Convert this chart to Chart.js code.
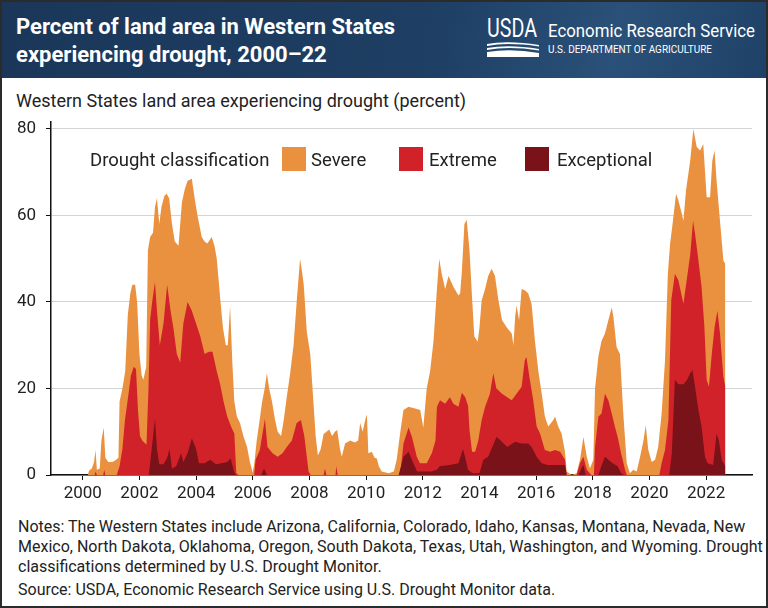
<!DOCTYPE html>
<html>
<head>
<meta charset="utf-8">
<title>Western States drought</title>
<script src="https://cdn.jsdelivr.net/npm/chart.js@4.4.0/dist/chart.umd.min.js"></script>
<style>
  html, body { margin: 0; padding: 0; background: #fff; }
  #frame { position: relative; width: 768px; height: 608px; overflow: hidden; background: #fff; font-family: Roboto, "Noto Sans", sans-serif; color: #222; }
  #border { position: absolute; left: 0; top: 0; width: 768px; height: 608px; box-sizing: border-box; border: 2px solid #2b2b2b; pointer-events: none; z-index: 10; }
  #header { position: absolute; left: 0; top: 0; width: 768px; height: 78px; background: linear-gradient(100deg, #1a3759 0%, #1e3e63 55%, #2a5179 80%, #1f4167 100%); }
  #title { position: absolute; left: 16px; top: 13px; color: #fff; font: bold 22px/28px "Liberation Sans Narrow", Roboto, sans-serif; }
  .fit { position: absolute; color: #fff; white-space: nowrap; transform-origin: 0 0; }
  #usda { left: 487px; top: 15px; font: 26px/26px Roboto, sans-serif; }
  #swoosh { position: absolute; left: 487px; top: 41px; }
  #ers { left: 548px; top: 20px; font: 19px/22px Roboto, sans-serif; }
  #dept { left: 548px; top: 43px; font: 11px/13px Roboto, sans-serif; }
  #subtitle { position: absolute; left: 16px; top: 90px; font-size: 18px; line-height: 22px; color: #222; white-space: nowrap; }
  #chartBox { position: absolute; left: 0; top: 100px; width: 768px; height: 410px; }
  .leg { position: absolute; top: 148px; font-size: 18.5px; line-height: 24px; color: #222; white-space: nowrap; }
  .sw { position: absolute; top: 147px; width: 24px; height: 24px; }
  #notes { position: absolute; left: 18px; top: 517px; font: 16px/20px "Liberation Sans Narrow", Roboto, sans-serif; color: #222; }
  #source { position: absolute; left: 18px; top: 580px; font: 16px/20px "Liberation Sans Narrow", Roboto, sans-serif; color: #222; }
</style>
</head>
<body>
<div id="frame">
  <div id="header">
    <div id="title">Percent of land area in Western States<br>experiencing drought, 2000–22</div>
    <div id="usda" class="fit" data-w="50">USDA</div>
    <svg id="swoosh" width="52" height="16" viewBox="0 0 52 16">
      <path d="M0 3 Q20 -1 52 4 L52 5.5 Q20 1 0 5 Z" fill="#fff"/>
      <path d="M0 7 Q22 3 52 8 L52 9.5 Q22 5 0 9 Z" fill="#fff"/>
      <path d="M0 11 Q24 7 52 12 L52 16 L0 16 Z" fill="#fff"/>
    </svg>
    <div id="ers" class="fit" data-w="207">Economic Research Service</div>
    <div id="dept" class="fit" data-w="164">U.S. DEPARTMENT OF AGRICULTURE</div>
  </div>
  <div id="subtitle">Western States land area experiencing drought (percent)</div>
  <div id="chartBox"><canvas id="chart"></canvas></div>

  <div class="leg" style="left:90px">Drought classification</div>
  <div class="sw" style="left:282px;background:#EA9140"></div>
  <div class="leg" style="left:311px">Severe</div>
  <div class="sw" style="left:399px;background:#D12229"></div>
  <div class="leg" style="left:429px">Extreme</div>
  <div class="sw" style="left:525px;background:#7A121A"></div>
  <div class="leg" style="left:557px">Exceptional</div>

  <div id="notes">Notes: The Western States include Arizona, California, Colorado, Idaho, Kansas, Montana, Nevada, New<br>Mexico, North Dakota, Oklahoma, Oregon, South Dakota, Texas, Utah, Washington, and Wyoming. Drought<br>classifications determined by U.S. Drought Monitor.</div>
  <div id="source">Source: USDA, Economic Research Service using U.S. Drought Monitor data.</div>
  <div id="border"></div>
</div>

<script>
// percent of land area: [decimal year, percent]
// each series is cumulative (severe or worse, extreme or worse, exceptional)
const severe = [
  [2000.0,0],[2000.18,0],[2000.22,1],[2000.32,1.5],[2000.4,3],[2000.45,5.8],[2000.5,1.2],[2000.6,1.5],
  [2000.66,8],[2000.74,11],[2000.8,4],[2000.9,3],[2001.05,3],[2001.18,3.5],[2001.26,4],[2001.3,17],
  [2001.4,20],[2001.5,24],[2001.59,37],[2001.68,42],[2001.75,44],[2001.85,44],[2001.92,40],[2002.0,28],
  [2002.08,23],[2002.14,22],[2002.24,25],[2002.3,52],[2002.38,55],[2002.48,56],[2002.55,62],[2002.62,64],
  [2002.7,58],[2002.78,62],[2002.88,64.5],[2002.96,65],[2003.05,64],[2003.15,58],[2003.25,54],[2003.38,53],
  [2003.5,63],[2003.6,66],[2003.7,68],[2003.85,68.5],[2003.95,64],[2004.05,60],[2004.2,55],[2004.3,54],
  [2004.4,53.5],[2004.55,55],[2004.65,53],[2004.73,50],[2004.85,41],[2004.95,34],[2005.05,30],[2005.12,30],
  [2005.2,39],[2005.28,26],[2005.35,17],[2005.44,13.5],[2005.55,12],[2005.67,9],[2005.8,6.5],[2005.9,3],
  [2006.0,0.5],[2006.06,3],[2006.14,8],[2006.25,13],[2006.32,16.5],[2006.42,20],[2006.5,23.5],[2006.58,20],
  [2006.68,17],[2006.78,13],[2006.88,10],[2007.0,9],[2007.1,13],[2007.2,18],[2007.32,23.5],[2007.44,30],
  [2007.55,40],[2007.67,50],[2007.74,47],[2007.8,44],[2007.91,33],[2008.03,28],[2008.15,16],[2008.22,9],
  [2008.3,4.5],[2008.4,6],[2008.5,9.5],[2008.6,10],[2008.7,10.5],[2008.8,9],[2008.9,10],[2008.98,10.4],
  [2009.08,6],[2009.14,4.2],[2009.26,7.3],[2009.44,8],[2009.6,7.5],[2009.72,8],[2009.79,12],[2009.88,10],
  [2009.98,13],[2010.03,14],[2010.08,5],[2010.2,5.4],[2010.3,4],[2010.38,3.8],[2010.45,2],[2010.55,0.8],
  [2010.8,0.4],[2010.98,0.8],[2011.08,3.5],[2011.2,9.6],[2011.32,15],[2011.5,15.8],[2011.73,15.4],[2011.91,15],
  [2012.02,11],[2012.14,20],[2012.26,24],[2012.38,31],[2012.5,43],[2012.58,50],[2012.67,46.5],[2012.79,43],
  [2012.91,46],[2013.08,43.5],[2013.26,41.5],[2013.32,42],[2013.38,47],[2013.47,58],[2013.55,59],[2013.65,52],
  [2013.74,41],[2013.82,32],[2013.94,30.8],[2014.0,34],[2014.08,40.4],[2014.2,43],[2014.31,46],[2014.43,47.7],
  [2014.55,46],[2014.67,40.4],[2014.8,35.8],[2014.98,34],[2015.14,32.7],[2015.2,30],[2015.26,36.5],[2015.31,39.2],
  [2015.4,35.8],[2015.49,43],[2015.6,42.7],[2015.72,42],[2015.84,39.6],[2015.96,31],[2016.08,24],[2016.2,18.8],
  [2016.31,13.5],[2016.43,11.2],[2016.61,12.7],[2016.67,13.5],[2016.78,11.2],[2016.9,9.6],[2017.02,5.4],[2017.08,0.8],
  [2017.26,0],[2017.43,0.4],[2017.55,3.5],[2017.67,8.8],[2017.79,4.2],[2017.9,1.5],[2018.02,3.5],[2018.08,20],
  [2018.2,27.5],[2018.31,31],[2018.43,32.7],[2018.55,35.8],[2018.67,38.8],[2018.73,36.5],[2018.84,29.6],[2018.96,28],
  [2019.08,14],[2019.2,2.7],[2019.31,0.4],[2019.43,1.2],[2019.55,0.8],[2019.67,4.2],[2019.79,8],[2019.87,11.5],
  [2019.96,5.8],[2020.08,3],[2020.2,3.5],[2020.31,6.5],[2020.43,14.2],[2020.55,26.5],[2020.65,46.5],[2020.73,53.5],
  [2020.83,58.8],[2020.94,65],[2021.02,63.5],[2021.12,61],[2021.2,58.8],[2021.29,65.8],[2021.44,72.7],[2021.55,80],
  [2021.67,75.8],[2021.79,75],[2021.9,76.5],[2022.02,64.2],[2022.14,64.2],[2022.22,72.7],[2022.3,75],[2022.37,68],
  [2022.49,58.8],[2022.61,49.6],[2022.68,48.8]
];

const extreme = [
  [2000.0,0],[2000.42,0],[2000.45,0.8],[2000.5,0],[2000.72,0],[2000.76,1.2],[2000.8,0],[2001.2,0],
  [2001.3,2],[2001.4,6],[2001.49,12.7],[2001.6,18],[2001.7,23],[2001.8,25],[2001.88,24.5],[2001.95,15],
  [2002.02,9],[2002.1,8],[2002.25,7],[2002.32,20],[2002.38,36],[2002.45,40],[2002.55,44.6],[2002.62,38],
  [2002.72,30],[2002.85,35],[2002.98,44],[2003.1,38],[2003.2,34],[2003.32,28],[2003.44,26],[2003.55,35],
  [2003.7,40],[2003.85,38],[2004.0,35],[2004.15,32],[2004.3,28],[2004.45,28.5],[2004.58,28.5],[2004.73,24],
  [2004.85,21],[2004.97,17],[2005.1,13.5],[2005.25,11],[2005.35,9.6],[2005.42,0.4],[2005.5,0],[2006.05,0],
  [2006.1,3.5],[2006.25,5.8],[2006.43,13],[2006.52,6.5],[2006.7,5],[2006.88,4.2],[2007.05,5],[2007.2,6.5],
  [2007.38,8],[2007.55,12],[2007.7,12.7],[2007.82,9],[2007.97,0.8],[2008.05,0],[2008.5,0],[2008.55,1.5],
  [2008.6,0],[2008.92,0],[2008.95,2],[2009.0,0],[2011.2,0],[2011.25,3],[2011.32,7.3],[2011.5,11],
  [2011.62,8.8],[2011.79,4.2],[2011.9,2.7],[2012.14,2.7],[2012.32,5],[2012.45,8],[2012.5,15.8],[2012.61,17.3],
  [2012.79,16.5],[2012.96,18],[2013.08,16.5],[2013.26,15.8],[2013.38,19],[2013.5,18],[2013.6,16],[2013.65,10.4],
  [2013.74,5.4],[2013.85,5.4],[2013.96,8],[2014.08,12.7],[2014.2,15.8],[2014.37,18.8],[2014.49,23.5],[2014.6,20],
  [2014.8,18.8],[2014.98,18],[2015.14,17.3],[2015.31,18.8],[2015.49,20.4],[2015.6,26.5],[2015.66,27.3],[2015.78,22],
  [2015.9,17.3],[2016.02,11.2],[2016.14,9.6],[2016.31,5.8],[2016.5,5.4],[2016.67,5.8],[2016.85,5.4],[2017.02,3.5],
  [2017.08,0],[2017.43,0],[2017.55,2.7],[2017.67,4.2],[2017.79,1.2],[2017.95,0],[2018.04,0],[2018.08,6.5],
  [2018.2,13.5],[2018.31,14.2],[2018.43,18.8],[2018.55,17.3],[2018.67,14.2],[2018.78,11.2],[2018.88,8.8],[2019.0,5],
  [2019.14,1.2],[2019.2,0],[2020.35,0],[2020.43,2.7],[2020.55,5.8],[2020.67,12.7],[2020.77,40.4],[2020.9,46.5],
  [2021.02,45],[2021.12,42],[2021.2,39.6],[2021.33,45.8],[2021.44,51],[2021.54,58.8],[2021.61,55.8],[2021.73,49.6],
  [2021.84,43.5],[2021.94,34.2],[2022.02,22],[2022.1,20.4],[2022.2,28],[2022.3,34.2],[2022.4,38],[2022.49,32.7],
  [2022.61,22.7],[2022.68,20.4]
];

const exceptional = [
  [2000.0,0],[2002.33,0],[2002.4,4],[2002.5,10],[2002.55,13],[2002.62,6],[2002.7,2.5],[2002.85,2.5],
  [2002.98,4],[2003.06,6],[2003.15,1.5],[2003.3,2],[2003.47,5],[2003.55,3],[2003.7,5],[2003.85,8.5],
  [2004.0,6],[2004.1,2.7],[2004.3,2.7],[2004.5,3.5],[2004.7,2.5],[2004.9,2.7],[2005.1,3],[2005.22,3.8],
  [2005.35,0.5],[2005.42,0],[2006.3,0],[2006.4,1.5],[2006.5,0],[2011.15,0],[2011.32,4.2],[2011.5,5.4],
  [2011.65,3],[2011.8,0.8],[2012.3,0.8],[2012.5,1.2],[2012.6,2],[2012.95,2.3],[2013.26,2.7],[2013.42,6],
  [2013.5,4],[2013.6,1.2],[2013.75,0.4],[2014.0,0.4],[2014.14,3.5],[2014.31,4.2],[2014.49,7],[2014.6,8.8],
  [2014.75,8],[2014.98,6.5],[2015.1,7],[2015.26,7.7],[2015.49,7.3],[2015.72,7.3],[2015.84,6.5],[2016.02,4.2],
  [2016.2,2.7],[2016.4,2.3],[2017.02,2.3],[2017.08,0],[2017.5,0],[2017.6,1.5],[2017.67,2.3],[2017.75,0],
  [2018.2,0],[2018.3,2],[2018.43,4.2],[2018.55,3.5],[2018.7,2.7],[2018.88,2],[2019.0,0.4],[2019.1,0],
  [2020.7,0],[2020.79,5],[2020.9,22],[2021.02,21],[2021.2,21],[2021.33,22],[2021.44,23.5],[2021.52,24.2],
  [2021.61,20.4],[2021.73,15],[2021.84,11.2],[2021.96,4.2],[2022.05,2.7],[2022.25,2.3],[2022.37,9.6],[2022.45,8],
  [2022.55,3.5],[2022.68,2]
];

const seriesNames = ["Exceptional", "Extreme", "Severe"];
const seriesColors = ["#7A121A", "#D12229", "#EA9140"];
const yTicks = [0, 20, 40, 60, 80];

// squeeze the logo texts to the widths they take in the original
document.querySelectorAll(".fit").forEach(function (el) {
  var target = parseFloat(el.dataset.w);
  var w = el.getBoundingClientRect().width;
  if (w > 0) {
    el.style.transform = "scaleX(" + (target / w) + ")";
  }
});

const toPoints = (arr) => arr.map(p => ({ x: p[0], y: p[1] }));

// first dataset is drawn last, so exceptional sits on top
let datasets = [exceptional, extreme, severe].map((s, i) => ({
  label: seriesNames[i],
  data: toPoints(s),
  backgroundColor: seriesColors[i],
  borderWidth: 0,
  pointRadius: 0,
  fill: "origin",
  tension: 0
}));

let chart = new Chart(document.getElementById("chart"), {
  type: "line",
  data: { datasets: datasets },
  options: {
    responsive: true,
    maintainAspectRatio: false,
    animation: false,
    layout: { padding: { left: 0, right: 16, top: 21.6, bottom: 0 } },
    plugins: { legend: { display: false }, tooltip: { enabled: false } },
    scales: {
      x: {
        type: "linear",
        min: 1998.88,
        max: 2023.62,
        afterFit: (scale) => { scale.height = 35; },
        border: { display: true, color: "#111", width: 1.5 },
        grid: { drawOnChartArea: false, drawTicks: true, tickLength: 5, tickColor: "#111" },
        ticks: {
          stepSize: 2,
          includeBounds: false,
          padding: 4,
          maxRotation: 0,
          color: "#222",
          font: { family: "Roboto", size: 17 },
          callback: (v) => String(v)
        }
      },
      y: {
        min: 0,
        max: 81.7,
        afterFit: (scale) => { scale.width = 51; },
        afterBuildTicks: (scale) => { scale.ticks = yTicks.map(v => ({ value: v })); },
        border: { display: true, color: "#111", width: 1.5 },
        grid: { color: "#d4d4d4", lineWidth: 1, tickLength: 5, tickColor: "#111" },
        ticks: {
          padding: 10,
          color: "#222",
          font: { family: "Roboto", size: 17 }
        }
      }
    }
  }
});
</script>
</body>
</html>
